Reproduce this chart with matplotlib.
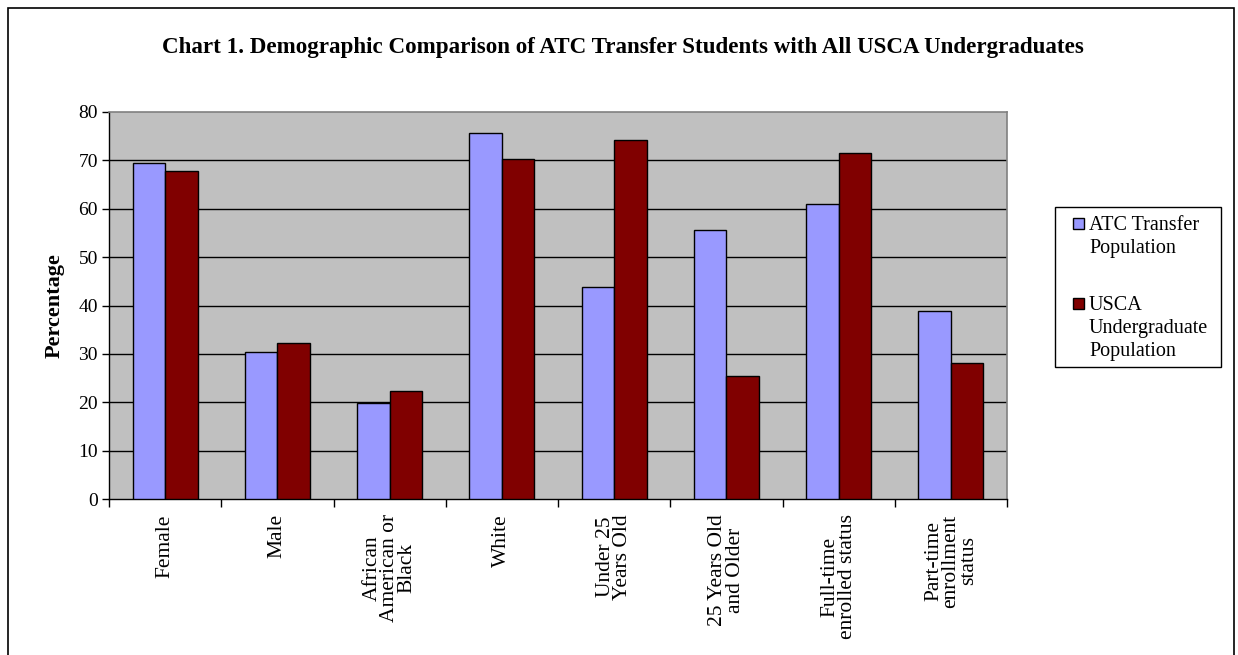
import matplotlib
matplotlib.use("Agg")
import matplotlib.pyplot as plt
from matplotlib.patches import Rectangle
import numpy as np

categories = ["Female", "Male", "African\nAmerican or\nBlack", "White",
              "Under 25\nYears Old", "25 Years Old\nand Older",
              "Full-time\nenrolled status", "Part-time\nenrollment\nstatus"]
atc = [69.4, 30.3, 19.8, 75.6, 43.9, 55.7, 61.0, 38.9]
usca = [67.8, 32.2, 22.3, 70.2, 74.3, 25.4, 71.6, 28.1]
series_names = ["ATC Transfer\nPopulation", "USCA\nUndergraduate\nPopulation"]
series_colors = ['#9999FF', '#800000']
yticks = [0, 10, 20, 30, 40, 50, 60, 70, 80]

plt.rcParams['font.family'] = ['Liberation Serif', 'DejaVu Serif']

W, H = 1238, 655
fig = plt.figure(figsize=(W / 100, H / 100), dpi=100)

def fx(px):
    return px / W

def fy(py):
    return 1 - py / H

# outer frame
fig.patches.append(Rectangle((fx(8), -0.01), fx(1234 - 8), 1.01 - 8 / H,
                             transform=fig.transFigure, fill=False,
                             edgecolor='black', linewidth=1.2))

ax = fig.add_axes([fx(109), fy(499), fx(1007 - 109), (499 - 112) / H])
ax.set_facecolor('#C0C0C0')

x = np.arange(len(categories))
bw = 0.29
ax.bar(x - bw / 2, atc, bw, color=series_colors[0], edgecolor='black',
       linewidth=1.0, zorder=3)
ax.bar(x + bw / 2, usca, bw, color=series_colors[1], edgecolor='black',
       linewidth=1.0, zorder=3)

ax.set_xlim(-0.5, len(categories) - 0.5)
ax.set_ylim(0, 80)
ax.set_yticks(yticks)
ax.tick_params(axis='y', labelsize=14, direction='out', length=5, width=1, pad=3)
for yv in yticks[1:-1]:
    ax.axhline(yv, color='black', linewidth=1.0, zorder=1)

# x ticks at category boundaries, labels at centres
ax.set_xticks(np.arange(len(categories) + 1) - 0.5)
ax.set_xticklabels([])
ax.tick_params(axis='x', which='major', direction='out', length=6, width=1)
ax.set_xticks(x, minor=True)
ax.set_xticklabels(categories, minor=True, rotation=90, fontsize=15.5,
                   ha='center', va='top', multialignment='center',
                   linespacing=0.88)
ax.tick_params(axis='x', which='minor', length=0, pad=11)

for s in ['top', 'right']:
    ax.spines[s].set_color('#808080')
    ax.spines[s].set_linewidth(1.2)
for s in ['left', 'bottom']:
    ax.spines[s].set_color('black')
    ax.spines[s].set_linewidth(1.0)

ax.set_ylabel('Percentage', fontsize=16, fontweight='bold', labelpad=10)

fig.text(fx(623), fy(53),
         'Chart 1. Demographic Comparison of ATC Transfer Students with All USCA Undergraduates',
         ha='center', va='baseline', fontsize=16.6, fontweight='bold')

# legend (drawn manually so the swatch sits on the first text line)
fig.patches.append(Rectangle((fx(1055), fy(367)), fx(1221 - 1055), (367 - 207) / H,
                             transform=fig.transFigure, facecolor='white',
                             edgecolor='black', linewidth=1.0))
entry_tops = [216, 296]
for name, col, top in zip(series_names, series_colors, entry_tops):
    fig.patches.append(Rectangle((fx(1073), fy(top + 13)), fx(11), 11 / H,
                                 transform=fig.transFigure, facecolor=col,
                                 edgecolor='black', linewidth=1.0))
    fig.text(fx(1089), fy(top), name, ha='left', va='top', fontsize=14.5,
             linespacing=1.3)

fig.savefig('out.png', dpi=100)
